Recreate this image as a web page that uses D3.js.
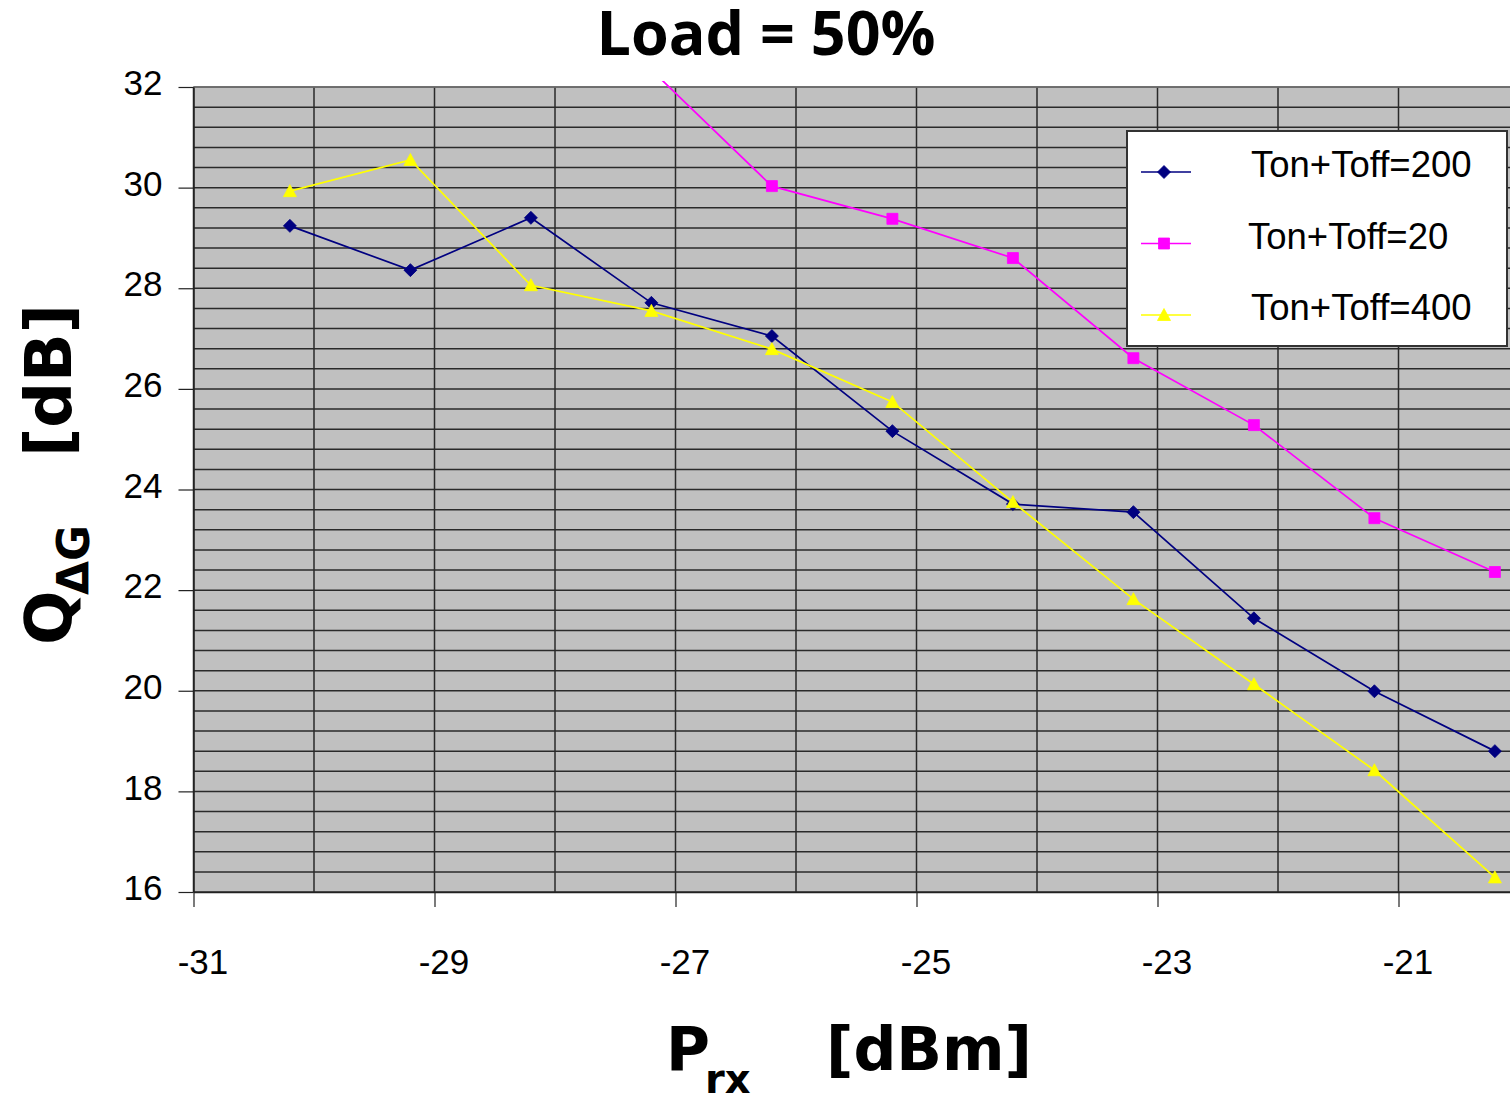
<!DOCTYPE html>
<html>
<head>
<meta charset="utf-8">
<script src="https://cdn.jsdelivr.net/npm/d3@7"></script>
<style>
  body { margin: 0; background: #fff; }
  svg { display: block; }
</style>
</head>
<body>
<div id="chart"></div>
<script>
var width = 1510;
var height = 1100;

// data
var prx = [-30.2, -29.2, -28.2, -27.2, -26.2, -25.2, -24.2, -23.2, -22.2, -21.2, -20.2];
var q200 = [29.24, 28.36, 29.40, 27.71, 27.05, 25.16, 23.71, 23.55, 21.44, 19.99, 18.80];
var q20  = [null, null, null, 32.34, 30.03, 29.38, 28.60, 26.61, 25.28, 23.43, 22.36];
var q400 = [29.93, 30.55, 28.06, 27.55, 26.79, 25.74, 23.75, 21.82, 20.13, 18.42, 16.29];

var seriesNames = ['Ton+Toff=200', 'Ton+Toff=20', 'Ton+Toff=400'];
var seriesVals = [q200, q20, q400];
var seriesColors = ['#000080', '#ff00ff', '#ffff00'];
var seriesMarkers = ['diamond', 'square', 'triangle'];

var xTicks = [-31, -29, -27, -25, -23, -21];
var yTicks = [16, 18, 20, 22, 24, 26, 28, 30, 32];

var plotLeft = 193.5, plotTop = 87;
var plotW = 11 * 120.5, plotH = 805;

var svg = d3.select('#chart').append('svg').attr('width', width).attr('height', height);

var x = d3.scaleLinear().domain([-31, -20]).range([plotLeft, plotLeft + plotW]);
var y = d3.scaleLinear().domain([16, 32]).range([plotTop + plotH, plotTop]);

// plot background
svg.append('rect')
    .attr('x', plotLeft).attr('y', plotTop)
    .attr('width', plotW).attr('height', plotH)
    .attr('fill', '#c0c0c0');

// grid lines: horizontal every 0.4, vertical every 1
var hGrid = d3.range(0, 41).map(function(i){ return 16 + i * 0.4; });
var vGrid = d3.range(-31, -19);

svg.append('g').selectAll('line').data(hGrid).enter().append('line')
    .attr('x1', plotLeft).attr('x2', plotLeft + plotW)
    .attr('y1', function(d){ return y(d); })
    .attr('y2', function(d){ return y(d); })
    .attr('stroke', '#2a2a2a')
    .attr('stroke-width', 1.5);

svg.append('g').selectAll('line').data(vGrid).enter().append('line')
    .attr('y1', plotTop).attr('y2', plotTop + plotH)
    .attr('x1', function(d){ return x(d); })
    .attr('x2', function(d){ return x(d); })
    .attr('stroke', '#2a2a2a')
    .attr('stroke-width', 1.5);

// top border a bit lighter
svg.append('line')
    .attr('x1', plotLeft).attr('x2', plotLeft + plotW)
    .attr('y1', plotTop).attr('y2', plotTop)
    .attr('stroke', '#777').attr('stroke-width', 1.5);

// axes
var yAxis = d3.axisLeft(y).tickValues(yTicks).tickSize(15).tickPadding(16).tickSizeOuter(0);
var gy = svg.append('g').attr('transform', 'translate(' + plotLeft + ',0)').call(yAxis);
gy.select('.domain').attr('stroke', '#222').attr('stroke-width', 1.5);
gy.selectAll('.tick line').attr('stroke', '#222').attr('stroke-width', 1.2);
gy.selectAll('text')
    .attr('font-family', 'Liberation Sans, Arial, sans-serif')
    .attr('font-size', 35)
    .attr('dy', '0.22em')
    .attr('fill', '#000');

var xAxis = d3.axisBottom(x).tickValues(xTicks).tickSize(15).tickPadding(42).tickSizeOuter(0)
    .tickFormat(function(d){ return String(d); });
var gx = svg.append('g').attr('transform', 'translate(0,' + (plotTop + plotH) + ')').call(xAxis);
gx.select('.domain').attr('stroke', '#222').attr('stroke-width', 1.5);
gx.selectAll('.tick line').attr('stroke', '#222').attr('stroke-width', 1.2);
gx.selectAll('text')
    .attr('font-family', 'Liberation Sans, Arial, sans-serif')
    .attr('font-size', 35)
    .attr('dx', 9)
    .attr('fill', '#000');

// clip: lines run a little above the plot top before being cut
svg.append('clipPath').attr('id', 'plotclip')
    .append('rect')
    .attr('x', plotLeft).attr('y', plotTop - 6)
    .attr('width', plotW).attr('height', plotH + 6);

function markerPath(kind){
    if (kind === 'diamond') return 'M0,-6.5L6.5,0L0,6.5L-6.5,0Z';
    if (kind === 'square') return 'M-5.5,-5.5H5.5V5.5H-5.5Z';
    return 'M0,-6.5L6.5,5.5L-6.5,5.5Z';
}

var line = d3.line()
    .defined(function(d){ return d[1] != null; })
    .x(function(d){ return x(d[0]); })
    .y(function(d){ return y(d[1]); });

var plotG = svg.append('g').attr('clip-path', 'url(#plotclip)');

for (var s = 0; s < seriesVals.length; s++) {
    var pts = prx.map(function(v, i){ return [v, seriesVals[s][i]]; });

    plotG.append('path')
        .datum(pts)
        .attr('fill', 'none')
        .attr('stroke', seriesColors[s])
        .attr('stroke-width', 1.7)
        .attr('d', line);

    var inside = pts.filter(function(d){ return d[1] != null && d[1] <= 32; });
    plotG.selectAll('.mk' + s).data(inside).enter().append('path')
        .attr('class', 'mk' + s)
        .attr('transform', function(d){ return 'translate(' + x(d[0]) + ',' + y(d[1]) + ')'; })
        .attr('d', markerPath(seriesMarkers[s]))
        .attr('fill', seriesColors[s])
        .attr('stroke', seriesColors[s])
        .attr('stroke-width', 0.8);
}

// legend
var lg = svg.append('g');
lg.append('rect')
    .attr('x', 1127).attr('y', 131)
    .attr('width', 380).attr('height', 215)
    .attr('fill', '#fff')
    .attr('stroke', '#333')
    .attr('stroke-width', 2);

seriesNames.forEach(function(name, i){
    var cy = 172 + i * 71.5;
    lg.append('line')
        .attr('x1', 1141).attr('x2', 1191)
        .attr('y1', cy).attr('y2', cy)
        .attr('stroke', seriesColors[i])
        .attr('stroke-width', 1.6);
    lg.append('path')
        .attr('transform', 'translate(1164,' + cy + ')')
        .attr('d', markerPath(seriesMarkers[i]))
        .attr('fill', seriesColors[i])
        .attr('stroke', seriesColors[i])
        .attr('stroke-width', 0.8);
    lg.append('text')
        .attr('x', i === 1 ? 1248 : 1251)
        .attr('y', cy + 5)
        .attr('font-family', 'Liberation Sans, Arial, sans-serif')
        .attr('font-size', 36.5)
        .attr('fill', '#000')
        .text(name);
});

// title
svg.append('text')
    .attr('x', 766).attr('y', 55)
    .attr('text-anchor', 'middle')
    .attr('font-family', 'Open Sans, sans-serif')
    .attr('font-weight', 'bold')
    .attr('font-size', 61)
    .text('Load = 50%');

// x axis title
var xt = svg.append('text')
    .attr('font-family', 'DejaVu Sans, sans-serif')
    .attr('font-weight', 'bold')
    .attr('font-size', 60)
    .attr('fill', '#000');
xt.append('tspan').attr('x', 666).attr('y', 1070).text('P');
xt.append('tspan').attr('x', 705).attr('y', 1093).attr('font-size', 40).text('rx');
xt.append('tspan').attr('x', 826).attr('y', 1070).text('[dBm]');

// y axis title
var yt = svg.append('text')
    .attr('transform', 'translate(71,645) rotate(-90)')
    .attr('font-family', 'DejaVu Sans, sans-serif')
    .attr('font-weight', 'bold')
    .attr('font-size', 64)
    .attr('fill', '#000');
yt.append('tspan').attr('x', 0).attr('y', 0).text('Q');
yt.append('tspan').attr('x', 50).attr('y', 18).attr('font-size', 44).text('\u0394G');
yt.append('tspan').attr('x', 188).attr('y', 0).text('[dB]');
</script>
</body>
</html>
